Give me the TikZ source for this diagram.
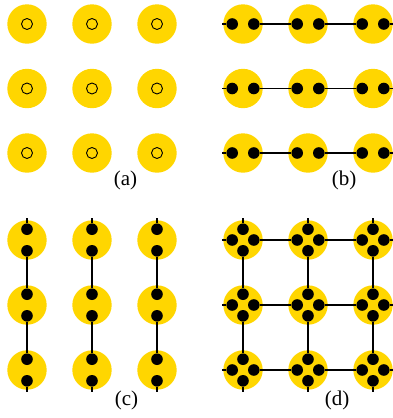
\documentclass[tikz,border=0pt]{standalone}
\usepackage{fontspec}
\setmainfont{Liberation Serif}
\definecolor{atomyellow}{RGB}{255,214,0}
\begin{document}
\begin{tikzpicture}[x=1pt,y=-1pt,
  atom/.style={circle,fill=atomyellow,minimum size=39.4pt,inner sep=0pt},
  elec/.style={circle,fill=black,minimum size=11.6pt,inner sep=0pt},
  hole/.style={circle,draw=black,line width=0.9pt,minimum size=11pt,inner sep=0pt},
  bond/.style={draw=black,line width=1.1pt},
  lab/.style={font=\fontsize{21}{24}\selectfont,inner sep=0pt}]
\useasboundingbox (0,0) rectangle (393,418);

% (a) isolated atoms
\foreach \i/\y in {1/24,2/88.5,3/153}{
  \foreach \j/\x in {1/27,2/92,3/157}{
    \node[atom] (a\i\j) at (\x,\y) {};
    \node[hole] (ah\i\j) at (\x,\y) {};
  }}
\node[lab] (la) at (125.5,180.5) {(a)};

% (b) horizontal chains
\foreach \i/\y in {1/24,2/88.5,3/153}{
  \foreach \j/\x in {1/243,2/308,3/373}{
    \node[atom] (b\i\j) at (\x,\y) {};
    \node[elec] (b\i\j-l) at (\x-10.8,\y) {};
    \node[elec] (b\i\j-r) at (\x+10.8,\y) {};
  }
  \coordinate (bs\i) at (222,\y);
  \coordinate (be\i) at (393,\y);
  \draw[bond] (bs\i) -- (b\i1-l) (b\i1-r) -- (b\i2-l) (b\i2-r) -- (b\i3-l) (b\i3-r) -- (be\i);
}
\node[lab] (lb) at (344,180.5) {(b)};

% (c) vertical chains
\foreach \j/\x in {1/27,2/92,3/157}{
  \foreach \i/\y in {1/240,2/305,3/370}{
    \node[atom] (c\i\j) at (\x,\y) {};
    \node[elec] (c\i\j-t) at (\x,\y-10.8) {};
    \node[elec] (c\i\j-b) at (\x,\y+10.8) {};
  }
  \coordinate (cs\j) at (\x,218);
  \coordinate (ce\j) at (\x,392);
  \draw[bond] (cs\j) -- (c1\j-t) (c1\j-b) -- (c2\j-t) (c2\j-b) -- (c3\j-t) (c3\j-b) -- (ce\j);
}
\node[lab] (lc) at (126.5,400.5) {(c)};

% (d) square lattice
\foreach \i/\y in {1/240,2/305,3/370}{
  \foreach \j/\x in {1/243,2/308,3/373}{
    \node[atom] (d\i\j) at (\x,\y) {};
    \node[elec] (d\i\j-l) at (\x-10.8,\y) {};
    \node[elec] (d\i\j-r) at (\x+10.8,\y) {};
    \node[elec] (d\i\j-t) at (\x,\y-10.8) {};
    \node[elec] (d\i\j-b) at (\x,\y+10.8) {};
  }}
\foreach \i/\y in {1/240,2/305,3/370}{
  \coordinate (dhs\i) at (222,\y);
  \coordinate (dhe\i) at (393,\y);
  \draw[bond] (dhs\i) -- (d\i1-l) (d\i1-r) -- (d\i2-l) (d\i2-r) -- (d\i3-l) (d\i3-r) -- (dhe\i);
}
\foreach \j/\x in {1/243,2/308,3/373}{
  \coordinate (dvs\j) at (\x,218);
  \coordinate (dve\j) at (\x,392);
  \draw[bond] (dvs\j) -- (d1\j-t) (d1\j-b) -- (d2\j-t) (d2\j-b) -- (d3\j-t) (d3\j-b) -- (dve\j);
}
\node[lab] (ld) at (337,400.5) {(d)};
\end{tikzpicture}
\end{document}
